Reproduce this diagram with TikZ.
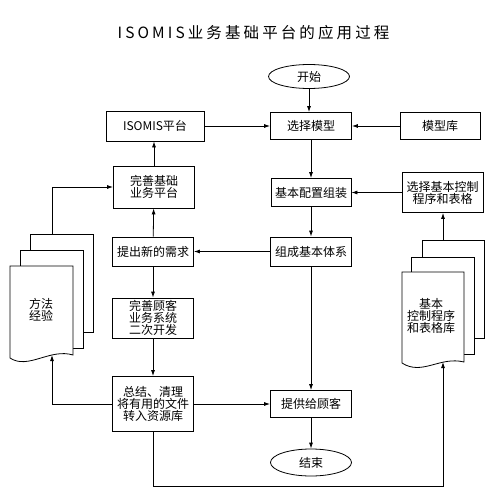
\documentclass[tikz,border=0pt]{standalone}
\usepackage{fontspec}
\setmainfont{Noto Sans CJK SC}
\newfontfamily\titlefont[LetterSpace=20]{Noto Sans CJK SC}
\usetikzlibrary{shapes.geometric,arrows.meta}

\begin{document}
\begin{tikzpicture}[x=1pt, y=-1pt, line width=0.8pt,
    >={Latex[length=6pt,width=4pt]},
    box/.style={draw, inner sep=0pt, align=center, font=\fontsize{12}{12}\selectfont},
    term/.style={draw, ellipse, inner sep=0pt, minimum width=81pt, minimum height=24pt, font=\fontsize{12}{12}\selectfont},
    docpage/.style={draw, fill=white}]

    \useasboundingbox (0,0) rectangle (496,500);

    \node[font=\titlefont\fontsize{15.5}{15.5}\selectfont] (t) at (253.5, 33) {ISOMIS业务基础平台的应用过程};

    \node[term] (a) at (309, 76.5) {开始};
    \node[box, minimum width=98pt, minimum height=30pt] (b) at (155, 126) {ISOMIS平台};
    \node[box, minimum width=81pt, minimum height=27pt] (c) at (311, 126) {选择模型};
    \node[box, minimum width=80pt, minimum height=27pt] (d) at (440, 126) {模型库};
    \node[box, minimum width=81pt, minimum height=42pt] (e) at (154, 187) {完善基础\\业务平台};
    \node[box, minimum width=80pt, minimum height=28pt] (f) at (311, 192.5) {基本配置组装};
    \node[box, minimum width=81pt, minimum height=40pt] (g) at (442.5, 192.5) {选择基本控制\\程序和表格};
    \node[box, minimum width=81pt, minimum height=29pt] (h) at (153, 251.5) {提出新的需求};
    \node[box, minimum width=81pt, minimum height=29pt] (i) at (311, 251.5) {组成基本体系};
    \node[box, minimum width=81pt, minimum height=40pt] (j) at (153, 318) {完善顾客\\业务系统\\二次开发};
    \node[box, minimum width=81pt, minimum height=55pt] (k) at (153, 404) {总结、清理\\将有用的文件\\转入资源库};
    \node[box, minimum width=81pt, minimum height=27pt] (l) at (311, 404) {提供给顾客};
    \node[term, minimum height=27pt] (m) at (311, 462.5) {结束};

    \filldraw[docpage] (30,234) rectangle (93,332);
    \filldraw[docpage] (20,250) rectangle (83,348);
    \filldraw[docpage] (10,266) -- (73,266) -- (73,355) .. controls (50,348) and (28,370) .. (10,358) -- cycle;
    \node[box, draw=none] (n) at (41,310) {方法\\经验};
    \coordinate (nt) at (52,234);
    \coordinate (nb) at (52,355);

    \filldraw[docpage] (422,240) rectangle (484,338);
    \filldraw[docpage] (411,257) rectangle (474,354);
    \filldraw[docpage] (402,272) -- (464,272) -- (464,362) .. controls (440,356) and (422,376) .. (402,363) -- cycle;
    \node[box, draw=none] (o) at (431,316) {基本\\控制程序\\和表格库};
    \coordinate (ot) at (443,240);
    \coordinate (ob) at (443,362);
    \coordinate (oc) at (443,486);

    \draw [->] (a) -- (a |- c.north);
    \draw [->] (b) -- (c);
    \draw [->] (d) -- (c);
    \draw [->] (c) -- (f);
    \draw [->] (g) -- (f);
    \draw [->] (f) -- (i);
    \draw [->] (i) -- (h);
    \draw [->] (h) -- (e);
    \draw [->] (e) -- (e |- b.south);
    \draw [->] (h) -- (j);
    \draw [->] (j) -- (k);
    \draw [->] (k) -- (l);
    \draw [->] (i) -- (l);
    \draw [->] (l) -- (m);
    \draw [->] (k.west) -| (nb);
    \draw [->] (nt) |- (e.west);
    \draw [->] (k.south) |- (oc) -- (ob);
    \draw [->] (ot) -- (ot |- g.south);

\end{tikzpicture}
\end{document}
